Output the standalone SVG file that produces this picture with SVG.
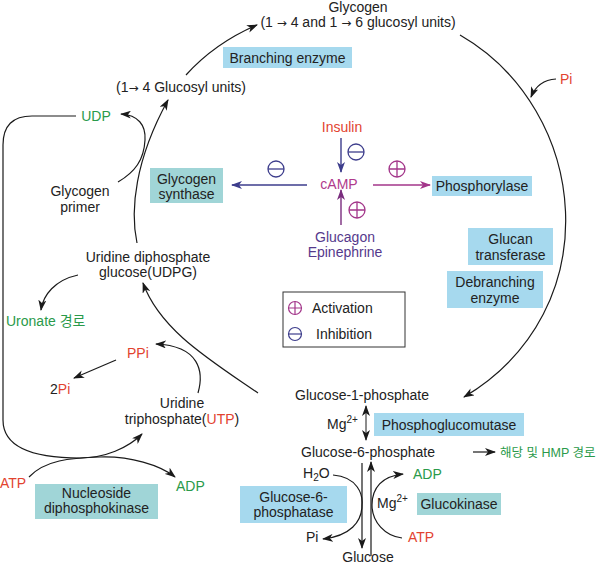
<svg xmlns="http://www.w3.org/2000/svg" width="600" height="566" viewBox="0 0 600 566">
<style>
text{font-family:"Liberation Sans","Noto Sans CJK KR",Arial,sans-serif;font-size:14px;fill:#222}
.m{text-anchor:middle}
.red{fill:#e2432f}
.grn{fill:#2a9a4a}
.mag{fill:#b03a8c}
.pur{fill:#55398c}
.blue{fill:#a6d9ee}
.teal{fill:#a0d5d7}
.ar{font-family:"DejaVu Sans",sans-serif;font-size:12px}
.ln{fill:none;stroke:#1a1a1a;stroke-width:1.2}
.nv{fill:none;stroke:#3d3d8c;stroke-width:1.4}
.mg{fill:none;stroke:#a3368a;stroke-width:1.4}
.pp{fill:none;stroke:#7a2d7e;stroke-width:1.4}
.sup{font-size:10px}
</style>
<defs>
<marker id="ab" markerUnits="userSpaceOnUse" markerWidth="11" markerHeight="8" refX="10" refY="4" orient="auto-start-reverse"><path d="M0,0 L11,4 L0,8 L3,4 z" fill="#1a1a1a"/></marker>
<marker id="an" markerUnits="userSpaceOnUse" markerWidth="11" markerHeight="8" refX="10" refY="4" orient="auto"><path d="M0,0 L11,4 L0,8 L3,4 z" fill="#3d3d8c"/></marker>
<marker id="am" markerUnits="userSpaceOnUse" markerWidth="11" markerHeight="8" refX="10" refY="4" orient="auto"><path d="M0,0 L11,4 L0,8 L3,4 z" fill="#a3368a"/></marker>
<marker id="ap" markerUnits="userSpaceOnUse" markerWidth="11" markerHeight="8" refX="10" refY="4" orient="auto"><path d="M0,0 L11,4 L0,8 L3,4 z" fill="#7a2d7e"/></marker>
<g id="plus"><circle r="8" fill="none" stroke="#a3368a" stroke-width="1.3"/><path d="M-8,0 H8 M0,-8 V8" stroke="#a3368a" stroke-width="1.3"/></g>
<g id="minus"><circle r="8" fill="none" stroke="#3d3d8c" stroke-width="1.3"/><path d="M-8,0 H8" stroke="#3d3d8c" stroke-width="1.3"/></g>
</defs>

<g id="connectors">
<path class="ln" d="M460,35 C590,110 610,310 464,397" marker-end="url(#ab)"/>
<path class="ln" d="M556,79 Q538,80 531,97" marker-end="url(#ab)"/>
<path class="ln" d="M186,75 Q215,43 257,25" marker-end="url(#ab)"/>
<path class="ln" d="M137,243 C130,210 135,160 168,100" marker-end="url(#ab)"/>
<path class="ln" d="M118,182 C135,172 144,160 145,140 C146,125 138,115 121,114" marker-end="url(#ab)"/>
<path class="ln" d="M76,116 L32,116 Q3,116 3,145 L3,420 C3,450 40,458 80,458 C105,458 128,448 142,434" marker-end="url(#ab)"/>
<path class="ln" d="M29,477 C45,460 70,458 100,457 C130,456 160,465 175,477" marker-end="url(#ab)"/>
<path class="ln" d="M198,393 C204,372 200,346 156,344" marker-end="url(#ab)"/>
<path class="ln" d="M258,393 C210,360 160,330 143,283" marker-end="url(#ab)"/>
<path class="ln" d="M78,275 C55,280 43,295 41,310" marker-end="url(#ab)"/>
<path class="ln" d="M116,360 L74,378" marker-end="url(#ab)"/>
<path class="ln" d="M366,406 V440" marker-start="url(#ab)" marker-end="url(#ab)" style="stroke-width:1"/>
<path class="ln" d="M473,452 H495" marker-end="url(#ab)"/>
<path class="ln" d="M362,463 V548" marker-end="url(#ab)"/>
<path class="ln" d="M371,556 V462" marker-end="url(#ab)"/>
<path class="ln" d="M333,475 C358,477 363,495 362,505 C362,522 350,536 323,539" marker-end="url(#ab)"/>
<path class="ln" d="M402,538 C385,536 372,522 372,505 C372,488 382,476 403,474" marker-end="url(#ab)"/>
<path class="nv" d="M307,185 H232" marker-end="url(#an)"/>
<path class="nv" d="M341,138 V172" marker-end="url(#an)"/>
<path class="mg" d="M373,185 H430" marker-end="url(#am)"/>
<path class="pp" d="M341,225 V190" marker-end="url(#ap)"/>
<use href="#minus" x="276" y="169"/>
<use href="#minus" x="356" y="152"/>
<use href="#plus" x="397" y="169"/>
<use href="#plus" x="357" y="210"/>
</g>

<g id="glycogen"><text class="m" x="358" y="12">Glycogen</text><text class="m" x="358" y="27">(1 <tspan class="ar">→</tspan> 4 and 1 <tspan class="ar">→</tspan> 6 glucosyl units)</text></g>
<g id="branching"><rect class="blue" x="223" y="47" width="129" height="21"/><text class="m" x="287.5" y="63">Branching enzyme</text></g>
<g id="glucosyl14"><text class="m" x="181" y="92">(1<tspan class="ar">→</tspan> 4 Glucosyl units)</text></g>
<g id="pi-top"><text class="red" x="560" y="84">Pi</text></g>
<g id="udp"><text class="m grn" x="96" y="121">UDP</text></g>
<g id="primer"><text class="m" x="80" y="196">Glycogen</text><text class="m" x="80" y="212">primer</text></g>
<g id="gsynthase"><rect class="teal" x="150" y="168" width="73" height="35"/><text class="m" x="186.5" y="184">Glycogen</text><text class="m" x="186.5" y="199">synthase</text></g>
<g id="insulin"><text class="m red" x="342" y="132">Insulin</text></g>
<g id="camp"><text class="m mag" x="339" y="189">cAMP</text></g>
<g id="glucagon"><text class="m pur" x="345" y="242">Glucagon</text><text class="m pur" x="345" y="257">Epinephrine</text></g>
<g id="phosphorylase"><rect class="blue" x="432" y="176" width="100" height="20"/><text class="m" x="482" y="191">Phosphorylase</text></g>
<g id="glucan"><rect class="blue" x="468" y="228" width="85" height="37"/><text class="m" x="510.5" y="244">Glucan</text><text class="m" x="510.5" y="260">transferase</text></g>
<g id="debranching"><rect class="blue" x="447" y="271" width="96" height="37"/><text class="m" x="495" y="287">Debranching</text><text class="m" x="495" y="303">enzyme</text></g>
<g id="legend"><rect x="283" y="292" width="122" height="55" fill="#fff" stroke="#333" stroke-width="1"/>
<circle cx="295" cy="308" r="6.5" fill="none" stroke="#a3368a" stroke-width="1.2"/><path d="M288.5,308 H301.5 M295,301.5 V314.5" stroke="#a3368a" stroke-width="1.2"/>
<text x="312" y="313">Activation</text>
<circle cx="295" cy="334" r="6.5" fill="none" stroke="#3d3d8c" stroke-width="1.2"/><path d="M288.5,334 H301.5" stroke="#3d3d8c" stroke-width="1.2"/>
<text x="316" y="339">Inhibition</text></g>
<g id="udpg"><text class="m" x="148" y="262">Uridine diphosphate</text><text class="m" x="148" y="277">glucose(UDPG)</text></g>
<g id="uronate"><text class="grn" x="6" y="326">Uronate 경로</text></g>
<g id="ppi"><text class="red" x="127" y="358">PPi</text></g>
<g id="twopi"><text x="50" y="394">2<tspan class="red">Pi</tspan></text></g>
<g id="utp"><text class="m" x="182" y="408">Uridine</text><text class="m" x="182" y="424">triphosphate(<tspan class="red">UTP</tspan>)</text></g>
<g id="atp-left"><text class="red" x="0" y="488">ATP</text></g>
<g id="adp-left"><text class="grn" x="176" y="491">ADP</text></g>
<g id="ndpk"><rect class="teal" x="35" y="484" width="123" height="35"/><text class="m" x="96.5" y="498">Nucleoside</text><text class="m" x="96.5" y="513">diphosphokinase</text></g>
<g id="g1p"><text class="m" x="362" y="400">Glucose-1-phosphate</text></g>
<g id="mg1"><text x="327" y="429">Mg<tspan class="sup" dy="-6">2+</tspan></text></g>
<g id="pgm"><rect class="blue" x="374" y="413" width="150" height="23"/><text class="m" x="449" y="430">Phosphoglucomutase</text></g>
<g id="g6p"><text class="m" x="368" y="457">Glucose-6-phosphate</text></g>
<g id="glycolysis"><text class="grn" x="500" y="457" style="font-size:12.5px">해당 및 HMP 경로</text></g>
<g id="h2o"><text x="303" y="478">H<tspan class="sup" dy="3">2</tspan><tspan dy="-3">O</tspan></text></g>
<g id="adp-right"><text class="grn" x="413" y="479">ADP</text></g>
<g id="g6pase"><rect class="blue" x="240" y="486" width="107" height="37"/><text class="m" x="293.5" y="502">Glucose-6-</text><text class="m" x="293.5" y="517">phosphatase</text></g>
<g id="mg2"><text x="377" y="508">Mg<tspan class="sup" dy="-6">2+</tspan></text></g>
<g id="glucokinase"><rect class="teal" x="417" y="493" width="84" height="22"/><text class="m" x="459" y="509">Glucokinase</text></g>
<g id="pi-bottom"><text x="306" y="542">Pi</text></g>
<g id="atp-right"><text class="red" x="408" y="542">ATP</text></g>
<g id="glucose"><text class="m" x="368" y="562">Glucose</text></g>
</svg>
